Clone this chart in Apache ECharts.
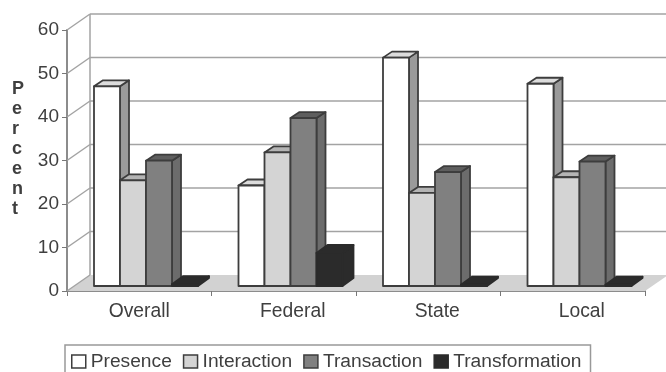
<!DOCTYPE html>
<html>
<head>
<meta charset="utf-8">
<style>html,body{margin:0;padding:0;background:#fff}#c{width:666px;height:372px}</style>
<script src="https://cdn.jsdelivr.net/npm/echarts@6/dist/echarts.min.js"></script>
</head>
<body>
<div id="c"></div>
<script>
const categories = ['Overall', 'Federal', 'State', 'Local'];
const presence = [45.9, 23.1, 52.5, 46.5];
const interaction = [24.3, 30.7, 21.4, 25.0];
const transaction = [28.8, 38.6, 26.2, 28.6];
const transformation = [0.4, 7.6, 0.3, 0.3];
const yTicks = [0, 10, 20, 30, 40, 50, 60];
const axisTitle = 'Percent';

// Pseudo-3D projection constants
const WALL_DX = 23, WALL_DY = 16;     // depth of the chart box
const PLANE_DX = 7, PLANE_DY = 5;     // where bars stand inside the box
const BAR_W = 26, BAND_PAD = 20;
const WALL_LINE = '#a3a3a3';
const EDGE = '#3d3d3d';

const palette = [
  { name: 'Presence', values: presence, front: '#ffffff', top: '#dcdcdc', side: '#9a9a9a', edge: EDGE, dx: 9, dy: 6 },
  { name: 'Interaction', values: interaction, front: '#d4d4d4', top: '#b4b4b4', side: '#989898', edge: EDGE, dx: 9, dy: 6 },
  { name: 'Transaction', values: transaction, front: '#808080', top: '#5e5e5e', side: '#6c6c6c', edge: EDGE, dx: 9, dy: 6 },
  { name: 'Transformation', values: transformation, front: '#2b2b2b', top: '#2b2b2b', side: '#2b2b2b', edge: '#2b2b2b', dx: 11, dy: 8 }
];

function barSeries(s, idx) {
  return {
    name: s.name,
    type: 'custom',
    z: 5,
    clip: false,
    itemStyle: { color: s.front, borderColor: s.edge, borderWidth: 1.8 },
    data: s.values.map((v, i) => [i, v]),
    encode: { x: 0, y: 1 },
    renderItem(params, api) {
      const cat = api.value(0);
      const top = api.coord([cat, api.value(1)]);
      const base = api.coord([cat, 0]);
      const band = api.size([1, 0])[0];
      const x0 = top[0] - band / 2 + BAND_PAD + PLANE_DX + idx * BAR_W;
      const x1 = x0 + BAR_W;
      const y0 = top[1] - PLANE_DY;
      const y1 = base[1] - PLANE_DY;
      const stroke = { stroke: s.edge, lineWidth: 1.8, lineJoin: 'round' };
      return {
        type: 'group',
        children: [
          { type: 'polygon', shape: { points: [[x1, y0], [x1 + s.dx, y0 - s.dy], [x1 + s.dx, y1 - s.dy], [x1, y1]] },
            style: { fill: s.side, ...stroke } },
          { type: 'polygon', shape: { points: [[x0, y0], [x0 + s.dx, y0 - s.dy], [x1 + s.dx, y0 - s.dy], [x1, y0]] },
            style: { fill: s.top, ...stroke } },
          { type: 'rect', shape: { x: x0, y: y0, width: BAR_W, height: y1 - y0 },
            style: { fill: s.front, ...stroke } }
        ]
      };
    }
  };
}

// Floor, left wall and back-wall gridlines
const wallSeries = {
  type: 'custom',
  z: 1,
  clip: false,
  silent: true,
  data: yTicks.map(t => [0, t]),
  encode: { x: 0, y: 1 },
  renderItem(params, api) {
    const tick = api.value(1);
    const y = api.coord([0, tick])[1];
    const sys = params.coordSys;
    const left = sys.x, right = sys.x + sys.width;
    const line = { stroke: WALL_LINE, lineWidth: 1.5 };
    const children = [];
    if (tick === 0) {
      const roof = api.coord([0, 60])[1];
      children.push(
        { type: 'polygon', shape: { points: [[left, y], [left + WALL_DX, y - WALL_DY], [right + WALL_DX, y - WALL_DY], [right, y]] },
          style: { fill: '#d2d2d2', stroke: 'none' } },
        { type: 'line', shape: { x1: left + WALL_DX, y1: roof - WALL_DY, x2: left + WALL_DX, y2: y - WALL_DY }, style: line }
      );
    }
    children.push(
      { type: 'line', shape: { x1: left, y1: y, x2: left + WALL_DX, y2: y - WALL_DY }, style: line }
    );
    if (tick > 0) {
      children.push({ type: 'line', shape: { x1: left + WALL_DX, y1: y - WALL_DY, x2: right + WALL_DX, y2: y - WALL_DY }, style: line });
    }
    return { type: 'group', children };
  }
};

const chart = echarts.init(document.getElementById('c'), null, { renderer: 'canvas' });
const textColor = '#3f3f3f';
const font = 'Liberation Sans';
chart.setOption({
  animation: false,
  backgroundColor: '#fff',
  grid: { left: 67, right: 21, top: 30, bottom: 81 },
  xAxis: {
    type: 'category',
    data: categories.map((c, i) => ({
      value: c,
      textStyle: { padding: i === 0 ? 0 : [0, 0, 0, 18] }
    })),
    axisLine: { lineStyle: { color: '#8c8c8c', width: 2 } },
    axisTick: { show: true, alignWithLabel: false, length: 5, lineStyle: { color: '#777', width: 1 } },
    axisLabel: { color: textColor, fontFamily: font, fontSize: 19.3, margin: 11 },
    splitLine: { show: false }
  },
  yAxis: {
    type: 'value',
    min: 0,
    max: 60,
    interval: 10,
    axisLine: { show: true, lineStyle: { color: '#8c8c8c', width: 2 } },
    axisTick: { show: true, length: 5, lineStyle: { color: '#777', width: 1 } },
    axisLabel: { color: textColor, fontFamily: font, fontSize: 19, margin: 8 },
    splitLine: { show: false }
  },
  legend: {
    left: 65,
    top: 345,
    padding: [7, 9, 14, 6],
    itemWidth: 14,
    itemHeight: 13,
    itemGap: 11,
    icon: 'rect',
    selectedMode: false,
    borderColor: '#999',
    borderWidth: 1.5,
    textStyle: { color: textColor, fontFamily: font, fontSize: 19.2 },
    data: palette.map(s => ({ name: s.name, itemStyle: { color: s.front, borderColor: s.edge, borderWidth: 1.5 } }))
  },
  graphic: [{
    type: 'text',
    left: 12,
    top: 79,
    style: {
      text: axisTitle.split('').join('\n'),
      fill: textColor,
      font: 'bold 18px "Liberation Sans"',
      lineHeight: 20,
      align: 'center'
    }
  }],
  series: [wallSeries, ...palette.map(barSeries)]
});
</script>
</body>
</html>
